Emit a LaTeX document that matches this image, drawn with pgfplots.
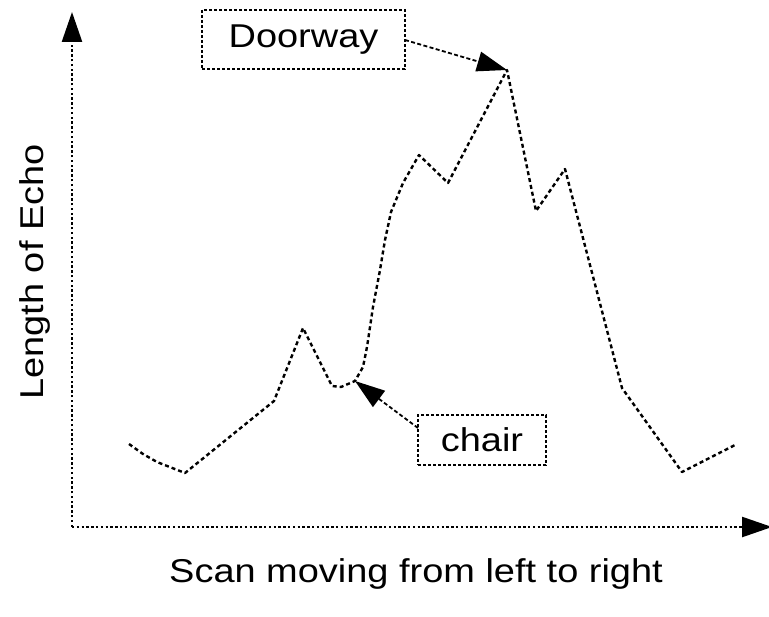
\documentclass[border=0pt]{standalone}
\usepackage{fontspec}
\setmainfont{Liberation Sans}[FakeStretch=1.15]
\usepackage{pgfplots}
\pgfplotsset{compat=1.18}
\usetikzlibrary{arrows.meta}

\begin{document}
\begin{tikzpicture}
\begin{axis}[
    x=0.5pt, y=0.5pt,
    xmin=0, xmax=700, ymin=0, ymax=515,
    axis lines*=left,
    axis line style={line width=1.2pt, dash pattern=on 1.2pt off 1.2pt,
        -{Triangle[length=15pt,width=10pt]}},
    ticks=none,
    clip=false,
    every axis label/.append style={font=\fontsize{16.5}{19}\selectfont},
    xlabel={Scan moving from left to right},
    xlabel style={at={(axis cs:344,-55)}, anchor=base},
    ylabel={Length of Echo},
    ylabel style={at={(axis cs:-29,255)}, anchor=base},
]
\addplot[black, line width=1.2pt, dash pattern=on 2pt off 1.5pt, line join=round] coordinates {
    (57,83)(71,73)(85,65)(113,54)(202,126)(231,199)(260,141)(269,140)(283,146)
    (291,160)(295,180)(301,220)(308,257)(313,287)(319,315)(331,344)(347,372)
    (376,344)(435,457)(464,316)(493,358)(550,139)(610,55)(663,82)
};

\node[draw, line width=0.8pt, dash pattern=on 1.5pt off 1pt, minimum width=101.5pt,
      minimum height=29.5pt, inner sep=0pt, font=\fontsize{16.5}{19}\selectfont]
      at (axis cs:231.5,487.5) {Doorway};
\draw[line width=0.9pt, dash pattern=on 2pt off 1.2pt, -{Triangle[length=15pt,width=10pt]}]
      (axis cs:333,487) -- (axis cs:435,457);

\node[draw, line width=0.8pt, dash pattern=on 1.5pt off 1pt, minimum width=64pt,
      minimum height=25pt, inner sep=0pt, font=\fontsize{16.5}{19}\selectfont]
      at (axis cs:410,87) {chair};
\draw[line width=0.9pt, dash pattern=on 2pt off 1.2pt, -{Triangle[length=15pt,width=10pt]}]
      (axis cs:346,99) -- (axis cs:283,146);

\coordinate (bbll) at (axis cs:-72,-89);
\coordinate (bbur) at (axis cs:697,527);
\end{axis}
\pgfresetboundingbox
\path[use as bounding box] (bbll) rectangle (bbur);
\end{tikzpicture}
\end{document}
